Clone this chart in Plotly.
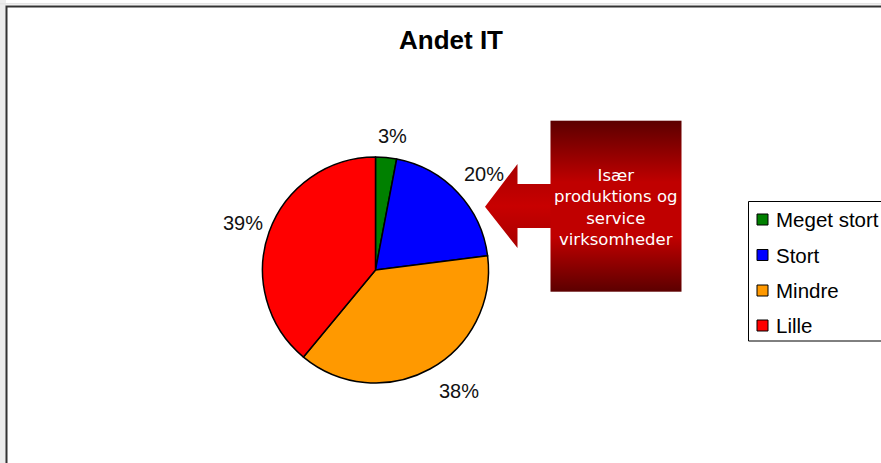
import base64
import plotly.graph_objects as go

W, H = 881, 463

# ---- data ----
categories = ["Meget stort", "Stort", "Mindre", "Lille"]
values = [3, 20, 38, 39]
colors = ["#008000", "#0000FF", "#FF9900", "#FF0000"]
title_text = "Andet IT"
callout_text = "Især<br>produktions og<br>service<br>virksomheder"


def px(x):
    return x / W


def py(y):
    return 1 - y / H


fig = go.Figure()

cx, cy, r = 375.5, 270, 113
fig.add_trace(go.Pie(
    labels=categories, values=values, sort=False, direction="clockwise",
    rotation=0, marker=dict(colors=colors, line=dict(color="#000000", width=1.5)),
    textinfo="none", hoverinfo="label+percent", showlegend=False,
    domain=dict(x=[px(cx - r), px(cx + r)], y=[py(cy + r), py(cy - r)]),
))

shapes = []
annotations = []

# outer background strips and chart border
shapes.append(dict(type="rect", xref="paper", yref="paper", x0=0, x1=px(6), y0=0, y1=1,
                   fillcolor="#ececec", line=dict(width=0), layer="below"))
shapes.append(dict(type="rect", xref="paper", yref="paper", x0=0, x1=1, y0=py(3), y1=py(4.5),
                   fillcolor="#e4e4e4", line=dict(width=0), layer="below"))
shapes.append(dict(type="rect", xref="paper", yref="paper", x0=px(6.5), x1=px(W + 10),
                   y0=py(H + 10), y1=py(6.5), fillcolor="rgba(0,0,0,0)",
                   line=dict(color="#333333", width=2)))

# percentage labels
label_pos = [(392, 135.5), (484, 174), (459, 391), (243.5, 223)]
for v, (lx, ly) in zip(values, label_pos):
    annotations.append(dict(xref="paper", yref="paper", x=px(lx), y=py(ly),
                            text=f"{v}%", showarrow=False, xanchor="center", yanchor="middle",
                            font=dict(family="Arial, Liberation Sans", size=20, color="#111111")))

# callout (gradient arrow + box) as SVG image
ox, oy = 484, 119
ow, oh = 682 - 484, 293 - 119
svg = f'''<svg xmlns="http://www.w3.org/2000/svg" width="{ow}" height="{oh}" viewBox="0 0 {ow} {oh}">
<defs>
<linearGradient id="g1" x1="0" y1="0" x2="0" y2="1">
<stop offset="0" stop-color="#5c0000"/>
<stop offset="0.36" stop-color="#c00000"/>
<stop offset="0.68" stop-color="#c00000"/>
<stop offset="1" stop-color="#5c0000"/>
</linearGradient>
<linearGradient id="g2" x1="0" y1="0" x2="0" y2="1">
<stop offset="0" stop-color="#a80000"/>
<stop offset="0.5" stop-color="#c80000"/>
<stop offset="1" stop-color="#a80000"/>
</linearGradient>
</defs>
<polygon fill="url(#g2)" points="{485-ox},{206.7-oy} {517.5-ox},{164-oy} {517.5-ox},{184-oy} {552-ox},{184-oy} {552-ox},{228-oy} {517.5-ox},{228-oy} {517.5-ox},{248-oy}"/>
<rect x="{550.5-ox}" y="{120.7-oy}" width="131" height="171" fill="url(#g1)"/>
</svg>'''
src = "data:image/svg+xml;base64," + base64.b64encode(svg.encode()).decode()
images = [dict(source=src, xref="paper", yref="paper", x=px(ox), y=py(oy),
               sizex=px(ow), sizey=oh / H, xanchor="left", yanchor="top",
               sizing="stretch", layer="above")]
annotations.append(dict(xref="paper", yref="paper", x=px(615.5), y=py(207.5),
                        text=callout_text, showarrow=False, xanchor="center", yanchor="middle",
                        font=dict(family="DejaVu Sans", size=16.5, color="#ffffff")))

# legend (box, swatches, names)
shapes.append(dict(type="rect", xref="paper", yref="paper", x0=px(748.5), x1=px(W + 20),
                   y0=py(341), y1=py(201.5), fillcolor="#ffffff",
                   line=dict(color="#000000", width=1)))
leg_y = [219.5, 255, 290.5, 325.5]
for name, col, ly in zip(categories, colors, leg_y):
    shapes.append(dict(type="rect", xref="paper", yref="paper", x0=px(757), x1=px(768),
                       y0=py(ly + 5.5), y1=py(ly - 5.5), fillcolor=col,
                       line=dict(color="#000000", width=1)))
    annotations.append(dict(xref="paper", yref="paper", x=px(774), y=py(ly),
                            text=name, showarrow=False, xanchor="left", yanchor="middle",
                            font=dict(family="Arial, Liberation Sans", size=20.5, color="#000000")))

fig.update_layout(
    width=W, height=H,
    margin=dict(l=0, r=0, t=0, b=0),
    paper_bgcolor="#ffffff", plot_bgcolor="#ffffff",
    title=dict(text=f"<b>{title_text}</b>", x=px(451), xanchor="center",
               y=py(40), yanchor="middle", yref="container",
               font=dict(family="Arial, Liberation Sans", size=26, color="#000000")),
    shapes=shapes, annotations=annotations, images=images,
    showlegend=False,
)

fig.write_html(
    "out.html",
    config={"displayModeBar": False},
    post_script="document.body.style.margin='0';document.body.style.overflow='hidden';",
)
